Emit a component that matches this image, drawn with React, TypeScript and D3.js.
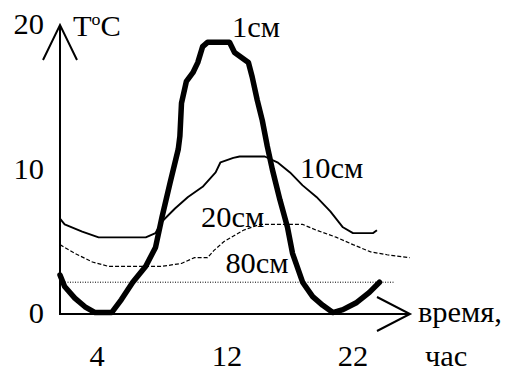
import type { ReactNode } from 'react';
import * as d3 from 'd3';

type Pt = [number, number]; // [hour, temperature]

// soil temperature by depth
const depth1cm: Pt[] = [
  [0, 2.7], [0.5, 1.9], [1.6, 1.1], [2.7, 0.5], [3.8, 0.1], [4.9, 0.1], [5.5, 1.0],
  [6.2, 2.2], [7.0, 3.3], [7.6, 4.6], [8.0, 6.7], [8.5, 9.1], [9.0, 11.4], [9.1, 12.3],
  [9.2, 14.6], [9.5, 16.1], [9.9, 16.7], [10.2, 17.4], [10.5, 18.5], [10.8, 18.8],
  [12.2, 18.8], [12.6, 18.1], [13.7, 17.4], [14.0, 16.4], [14.4, 14.8], [14.8, 13.4],
  [15.2, 11.6], [15.6, 10.0], [16.2, 7.9], [16.8, 6.0], [17.2, 4.2], [18.0, 2.2],
  [18.8, 1.2], [19.6, 0.6], [20.4, 0.1], [21.2, 0.3], [22.3, 0.8], [23.3, 1.5], [24.1, 2.2],
];
const depth10cm: Pt[] = [
  [0, 6.6], [0.5, 6.2], [2.4, 5.7], [4.1, 5.3], [7.0, 5.3], [7.6, 5.6], [8.0, 6.4],
  [8.8, 7.3], [9.6, 8.1], [10.5, 8.8], [11.3, 9.8], [11.6, 10.5], [12.5, 10.8], [13.0, 10.9],
  [15.0, 10.9], [16.0, 10.5], [17.0, 9.8], [18.0, 8.9], [19.1, 8.1], [20.2, 7.1],
  [21.2, 6.0], [22.0, 5.6], [23.6, 5.6], [23.9, 5.8],
];
const depth20cm: Pt[] = [
  [0, 4.8], [1.6, 4.2], [3.5, 3.6], [4.7, 3.3], [8.0, 3.3], [9.2, 3.5], [10.0, 3.9],
  [10.8, 3.9], [11.2, 4.4], [11.8, 5.0], [13.3, 5.8], [14.6, 6.2], [18.0, 6.2], [19.1, 5.8],
  [20.7, 5.3], [22.0, 4.8], [23.4, 4.3], [24.7, 4.1], [26.5, 3.9],
];
const depth80cm: Pt[] = [[0, 2.2], [25.3, 2.2]];

const xTicks = [4, 12, 22];
const yTicks = [0, 10, 20];

// series label text and where it sits, in data units
const seriesLabels: { text: string; h: number; t: number }[] = [
  { text: '1см', h: 12.4, t: 19.2 },
  { text: '10см', h: 17.8, t: 9.4 },
  { text: '20см', h: 10.4, t: 6.0 },
  { text: '80см', h: 11.9, t: 2.85 },
];

const W = 506;
const H = 369;
const txt = { fontFamily: "'Liberation Serif'", fontSize: '29px' };

// the hand-drawn time axis is uneven, so map it piecewise
const x = d3.scaleLinear().domain([0, 4, 12, 22]).range([60, 97, 227, 353]);
const y = d3.scaleLinear().domain([0, 20]).range([314, 25]);

const line = d3
  .line<Pt>()
  .x((d) => x(d[0]))
  .y((d) => y(d[1]));

// the scan is a bit wider than tall, so stretch the type a little
function Label({
  x: lx,
  y: ly,
  anchor = 'start',
  children,
}: {
  x: number;
  y: number;
  anchor?: 'start' | 'middle' | 'end';
  children: ReactNode;
}) {
  return (
    <text transform={`translate(${lx},${ly}) scale(1.05,1)`} textAnchor={anchor} style={txt}>
      {children}
    </text>
  );
}

export default function App() {
  const x0 = x(0);
  const y0 = y(0);
  return (
    <div style={{ position: 'fixed', left: 0, top: 0, background: '#fff' }}>
      <svg width={W} height={H} style={{ display: 'block' }}>
        {/* axes with arrows */}
        <g stroke="#000" strokeWidth={2} fill="none">
          <line x1={x0} x2={x0} y1={y0 + 1} y2={25} />
          <path d={`M${x0 - 17},60 L${x0},25 L${x0 + 17},60`} />
          <line x1={x0} x2={410} y1={y0} y2={y0} />
          <path d={`M377,${y0 - 17} L410,${y0} L377,${y0 + 17}`} />
        </g>

        <path d={line(depth80cm) ?? ''} fill="none" stroke="#000" strokeWidth={1} strokeDasharray="1,1.5" />
        <path d={line(depth20cm) ?? ''} fill="none" stroke="#000" strokeWidth={1.2} strokeDasharray="4,2" />
        <path d={line(depth10cm) ?? ''} fill="none" stroke="#000" strokeWidth={1.9} strokeLinejoin="round" />
        <path
          d={line(depth1cm) ?? ''}
          fill="none"
          stroke="#000"
          strokeWidth={5.5}
          strokeLinejoin="round"
          strokeLinecap="round"
        />

        {yTicks.map((v) => (
          <Label key={`y${v}`} x={44} y={y(v) + 9} anchor="end">
            {v}
          </Label>
        ))}
        {xTicks.map((v) => (
          <Label key={`x${v}`} x={x(v)} y={366} anchor="middle">
            {v}
          </Label>
        ))}
        {seriesLabels.map((d) => (
          <Label key={d.text} x={x(d.h)} y={y(d.t)}>
            {d.text}
          </Label>
        ))}

        <Label x={73} y={36}>
          T
          <tspan dy={-11} style={{ fontSize: '17px' }}>
            o
          </tspan>
          <tspan dy={11}>C</tspan>
        </Label>
        <Label x={418} y={322}>
          время,
        </Label>
        <Label x={425} y={366}>
          час
        </Label>
      </svg>
    </div>
  );
}
